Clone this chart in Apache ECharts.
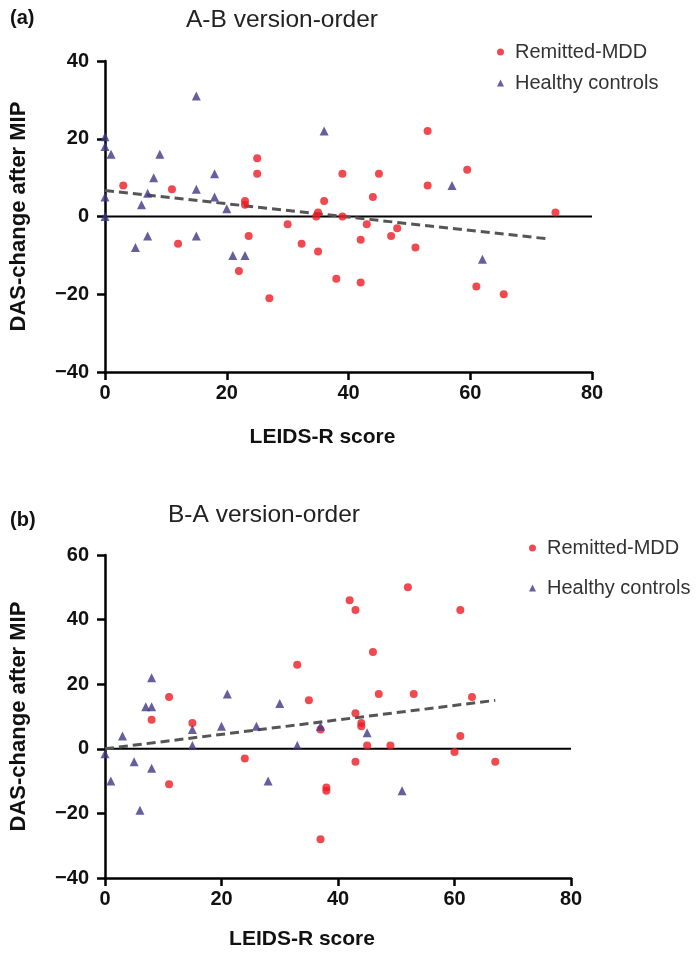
<!DOCTYPE html>
<html><head><meta charset="utf-8">
<script src="https://cdn.jsdelivr.net/npm/echarts@6/dist/echarts.min.js"></script>
<style>html,body{margin:0;padding:0;background:#fff}#c{width:697px;height:960px}</style>
</head><body><div id="c"></div>
<script>
// Panel (a): A-B version-order
const aRemitted = [[3,8],[11,7],[12,-7],[22,-14],[23,4],[23,3],[23.6,-5],[25,15],[25,11],[27,-21],[30,-2],[32.3,-7],[34.7,0],[35,1],[35,-9],[36,4],[38,-16],[39,11],[39,0],[42,-17],[42,-6],[43,-2],[44,5],[45,11],[47,-5],[48,-3],[51,-8],[53,22],[53,8],[59.5,12],[61,-18],[65.5,-20],[74,1]];
const aHealthy = [[0,20.5],[0,18],[1,16],[15,31],[9,16],[8,10],[18,11],[0,5],[7,6],[6,3],[15,7],[18,5],[20,2],[0,0],[36,22],[7,-5],[15,-5],[5,-8],[21,-10],[23,-10],[57,8],[62,-11]];
const aFit = [[0,6.7],[73,-5.8]];
// Panel (b): B-A version-order
const bRemitted = [[8,9],[11,16],[11,-11],[15,8],[24,-3],[33,26],[35,15],[37,6],[37,-28],[38,-12],[38,-13],[42,46],[43,43],[43,11],[43,-4],[44,8],[44,7],[45,1],[46,30],[47,17],[49,1],[52,50],[53,17],[60,-1],[61,43],[61,4],[63,16],[67,-4]];
const bHealthy = [[0,-1.5],[1,-10],[3,4],[5,-4],[6,-19],[7,13],[8,13],[8,22],[8,-6],[15,6],[15,1],[20,7],[21,17],[26,7],[28,-10],[30,14],[33,1],[37,7],[45,5],[51,-13]];
const bFit = [[0,0],[67,15]];
const zeroLine = [[0,0],[80,0]];
const xTicks = {min:0,max:80,interval:20};
const aY = {min:-40,max:40,interval:20};
const bY = {min:-40,max:60,interval:20};
const titles = ['A-B version-order','B-A version-order'];
const panelTags = ['(a)','(b)'];
const xName = 'LEIDS-R score';
const yName = 'DAS-change after MIP';
const names = ['Remitted-MDD','Healthy controls'];

const RED = '#ec1c24', BLUE = '#3f3786';
const SANS = "'Liberation Sans',Arial,Helvetica,sans-serif";
const minus = v => v < 0 ? '\u2212' + Math.abs(v) : String(v);

function xAxis(gi,gap,shift){
  return {type:'value',gridIndex:gi,min:xTicks.min,max:xTicks.max,interval:xTicks.interval,
    name:xName,nameLocation:'middle',nameGap:gap,
    nameTextStyle:{fontFamily:SANS,fontWeight:'bold',fontSize:21,color:'#111',padding:[0,shift,0,0]},
    axisLine:{onZero:false,lineStyle:{color:'#000',width:2.5}},
    axisTick:{length:8,lineStyle:{color:'#000',width:2.5}},
    axisLabel:{fontFamily:SANS,fontWeight:'bold',fontSize:20,color:'#111',margin:11},
    splitLine:{show:false}};
}
function yAxis(gi,r){
  return {type:'value',gridIndex:gi,min:r.min,max:r.max,interval:r.interval,
    name:yName,nameLocation:'middle',nameGap:75,
    nameTextStyle:{fontFamily:SANS,fontWeight:'bold',fontSize:22,color:'#111'},
    axisLine:{onZero:false,lineStyle:{color:'#000',width:2.5}},
    axisTick:{length:8,lineStyle:{color:'#000',width:2.5}},
    axisLabel:{fontFamily:SANS,fontWeight:'bold',fontSize:20,color:'#111',margin:16,formatter:minus},
    splitLine:{show:false}};
}
function sc(name,data,gi,sym,color,size){
  return {name,type:'scatter',xAxisIndex:gi,yAxisIndex:gi,data,symbol:sym,symbolSize:size,
    itemStyle:{color},z:3};
}
function ln(data,gi,style){
  return {type:'line',xAxisIndex:gi,yAxisIndex:gi,data,symbol:'none',silent:true,lineStyle:style,z:2};
}
const option = {
  animation:false,
  title:[
    {text:panelTags[0],left:10,top:8,padding:0,textStyle:{fontFamily:SANS,fontWeight:'bold',fontSize:20,color:'#111'}},
    {text:titles[0],left:186,top:8,padding:0,textStyle:{fontFamily:SANS,fontWeight:'normal',fontSize:24.5,color:'#222'}},
    {text:panelTags[1],left:10,top:510,padding:0,textStyle:{fontFamily:SANS,fontWeight:'bold',fontSize:20,color:'#111'}},
    {text:titles[1],left:168,top:503,padding:0,textStyle:{fontFamily:SANS,fontWeight:'normal',fontSize:24.5,color:'#222'}}
  ],
  legend:[
    {orient:'vertical',left:492,top:37,itemWidth:7,itemHeight:7,itemGap:11,
     data:[{name:names[0],icon:'circle'},{name:names[1],icon:'triangle'}],
     textStyle:{fontFamily:SANS,fontSize:20,color:'#333',padding:[0,0,0,6]}},
    {orient:'vertical',left:524,top:533,itemWidth:7,itemHeight:7,itemGap:20,
     data:[{name:names[0],icon:'circle'},{name:names[1],icon:'triangle'}],
     textStyle:{fontFamily:SANS,fontSize:20,color:'#333',padding:[0,0,0,6]}}
  ],
  grid:[
    {left:104,top:61,width:488,height:311},
    {left:103,top:555,width:468,height:323}
  ],
  xAxis:[xAxis(0,55,52),xAxis(1,51,72)],
  yAxis:[yAxis(0,aY),yAxis(1,bY)],
  series:[
    ln(zeroLine,0,{color:'#000',width:2}),
    ln(aFit,0,{color:'#555',width:3,type:[9,5]}),
    sc(names[0],aRemitted,0,'circle',RED,8),
    sc(names[1],aHealthy,0,'triangle',BLUE,9),
    ln(zeroLine,1,{color:'#000',width:2}),
    ln(bFit,1,{color:'#555',width:3,type:[9,5]}),
    sc(names[0],bRemitted,1,'circle',RED,8),
    sc(names[1],bHealthy,1,'triangle',BLUE,9)
  ]
};
const chart = echarts.init(document.getElementById('c'),null,{renderer:'canvas'});
chart.setOption(option);
</script></body></html>
